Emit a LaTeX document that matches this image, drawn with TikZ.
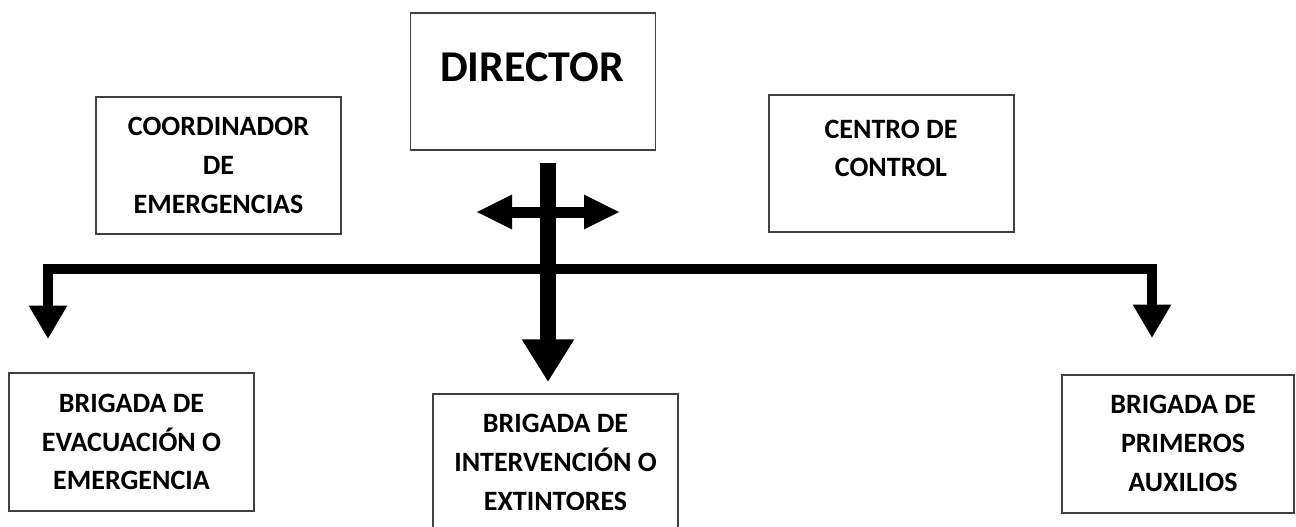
\documentclass[tikz,border=0pt]{standalone}
\usepackage{fontspec}
\setmainfont{Carlito}
\usetikzlibrary{arrows.meta}
\begin{document}
\begin{tikzpicture}[x=0.75pt,y=-0.75pt,
  box/.style={draw=black!75,line width=0.8pt,inner sep=0pt,outer sep=0pt,
    minimum width=183.75pt,minimum height=102.75pt},
  lbl/.style={align=center,font=\fontsize{21pt}{29pt}\selectfont\bfseries,inner sep=0pt},
  big/.style={font=\fontsize{33pt}{38pt}\selectfont\bfseries,inner sep=0pt},
  thickarrow/.style={line width=12pt,-{Triangle[length=32pt,width=37pt]}},
  dblarrow/.style={line width=8.25pt,{Triangle[length=27pt,width=24pt]}-{Triangle[length=27pt,width=24pt]}},
  branch/.style={line width=7.5pt,line join=miter,{Triangle[length=25pt,width=27pt]}-{Triangle[length=25pt,width=27pt]}}]
\useasboundingbox (0,0) rectangle (1296,526);
% boxes
\node[box] (dir) at (533,81.5) {};
\node[big] (dirtxt) at (532,67) {DIRECTOR};
\node[box] (coord) at (218.5,165.5) {};
\node[lbl] at (coord.center) {COORDINADOR\\DE\\EMERGENCIAS};
\node[box] (centro) at (891.5,163.5) {};
\node[lbl] (centrotxt) at (891,148.5) {CENTRO DE\\CONTROL};
\node[box,minimum height=103.5pt] (evac) at (131.5,442) {};
\node[lbl] at (evac.center) {BRIGADA DE\\EVACUACIÓN O\\EMERGENCIA};
\draw[draw=black!75,line width=0.8pt] (433,540) -- (433,394) -- (678,394) -- (678,540);
\coordinate (interv) at (555.5,462.5);
\node[lbl] (intervtxt) at (interv) {BRIGADA DE\\INTERVENCIÓN O\\EXTINTORES};
\node[box,minimum width=174pt,minimum height=103.5pt] (prim) at (1178,444) {};
\node[lbl] at (1183,443.5) {BRIGADA DE\\PRIMEROS\\AUXILIOS};
% connectors
\coordinate (vtop) at (548,163);
\coordinate (vtip) at (548,382);
\draw[thickarrow] (vtop) -- (vtip);
\coordinate (hl) at (476,212);
\coordinate (hr) at (620,212);
\draw[dblarrow] (hl) -- (hr);
\coordinate (ltip) at (48,339);
\coordinate (rtip) at (1152,338);
\draw[branch] (ltip) -- (48,269) -- (1152,269) -- (rtip);
\end{tikzpicture}
\end{document}
